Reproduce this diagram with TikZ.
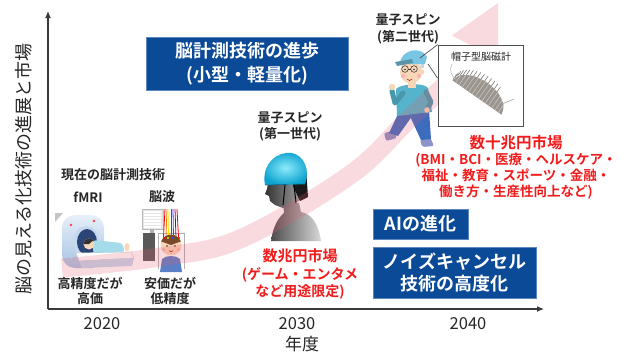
\documentclass[tikz,border=0pt]{standalone}
\usepackage{fontspec}
\setmainfont{Noto Sans CJK JP}[BoldFont={Noto Sans CJK JP Bold}]
\usetikzlibrary{arrows.meta,calc}
\newcommand\fsz[2]{\fontsize{#1}{#2}\selectfont}

\definecolor{boxblue}{HTML}{0B4A97}
\definecolor{boxedge}{HTML}{5E86BE}
\definecolor{mkred}{HTML}{F21C1C}
\definecolor{axisgray}{HTML}{3A3A3A}
\definecolor{txtgray}{HTML}{262626}
\definecolor{bandpink}{HTML}{E45A6A}
\definecolor{skin}{HTML}{F8D6B8}
\definecolor{mrilight}{HTML}{E6EFF9}
\definecolor{mridark}{HTML}{A6C3E3}
\definecolor{borering}{HTML}{C4D8EE}
\definecolor{bore}{HTML}{2B4676}
\definecolor{gown}{HTML}{A6DCEA}
\definecolor{shirtblue}{HTML}{5B7FC6}
\definecolor{hairbrown}{HTML}{7A4A2A}
\definecolor{helmetlight}{HTML}{8EEBFA}
\definecolor{helmetdark}{HTML}{0AA2CF}
\definecolor{capcyan}{HTML}{78C6E4}
\definecolor{shirtteal}{HTML}{55B3CB}
\definecolor{pantsblue}{HTML}{3D6CBF}
\definecolor{shoe}{HTML}{8C93CB}
\definecolor{sensor}{HTML}{9C958F}
\definecolor{framegray}{HTML}{505050}

\tikzset{
  bluebox/.style={fill=boxblue, draw=boxedge, line width=0.6pt, text=white,
    font=\bfseries, align=center, inner sep=0pt},
  redtext/.style={text=mkred, align=center, inner sep=0pt},
  blacklabel/.style={text=txtgray, align=center, inner sep=0pt},
  yearlabel/.style={text=txtgray, font=\fsz{16.5}{20}, inner sep=0pt},
  axisline/.style={draw=axisgray, line width=1.2pt, -{Latex[length=7pt,width=6pt]}},
  callout/.style={draw=framegray, line width=0.7pt},
}

\begin{document}
\begin{tikzpicture}[x=1pt,y=-1pt]
\useasboundingbox (0,0) rectangle (627,354);
\fill[white] (0,0) rectangle (627,354);

% ---------- axes ----------
\coordinate (origin) at (48,309);
\coordinate (ytop) at (48,11);
\coordinate (xend) at (544,309);
\draw[axisline] (origin) -- (ytop);
\draw[axisline] (origin) -- (xend);

\node[rotate=90, text=txtgray, font=\fsz{18}{20}, inner sep=0pt] (ylab) at (24,169)
  {脳の見える化技術の進展と市場};

% ---------- MRI scanner ----------
\fill[gray!45] (55,213) -- (63,213) -- (55,222) -- cycle;
\shade[top color=mrilight, bottom color=mridark, rounded corners=13pt] (62,215) rectangle (104,268);
\fill[borering] (86,242) ellipse [x radius=13, y radius=16];
\fill[bore] (87,242) ellipse [x radius=10, y radius=13];
\fill[red!75] (71,225) circle (1.3);
\fill[red!75] (94,221) circle (1.3);
% bed
\fill[white, draw=gray!45, line width=0.4pt] (76,253) -- (131,252) -- (134,258) -- (79,261) -- cycle;
\fill[borering] (79,261) -- (134,258) -- (132,266) -- (82,268) -- cycle;
% patient
\fill[gown, rounded corners=3pt] (93,240) -- (122,243) -- (125,252) -- (93,253) -- cycle;
\fill[skin] (127,247) ellipse [x radius=2.5, y radius=4];
\fill[skin] (89,244) circle (5.5);
\fill[black!80] (89,244) -- ++(180:5.5) arc[start angle=180, end angle=320, radius=5.5] -- cycle;

% ---------- EEG ----------
\fill[gray!20, draw=gray!55, line width=0.4pt] (142,209) rectangle (163,229);
\foreach \yy in {212,215,...,227} \draw[white, line width=1.1pt] (144,\yy) -- (161,\yy);
\fill[gray!60] (150,229) rectangle (154,233);
\fill[black!65] (143,233) rectangle (155,261);
\draw[gray!60, line width=0.8pt] (158,269) -- (158,233) -- (184,233) -- (184,269);
\foreach \c/\xa/\xb in {red/165/163.5, orange/167/166, yellow!85!orange/169/168.5,
    green!55!black/171/171, blue!75/173/173.5, violet/175/176, red/177/178.5}
  \draw[\c, line width=0.8pt] (\xa,209) -- (\xb,237);
\fill[shirtblue] (160,272) -- (162,259) .. controls (166,255) and (176,255) .. (180,259) -- (182,272) -- cycle;
\fill[skin] (171,245) circle (10.5);
\fill[hairbrown] (171,245) -- ++(200:10.5) arc[start angle=200, end angle=340, radius=10.5] -- cycle;
\foreach \c/\xx in {red/164, yellow!85!orange/168, blue!75/172, green!55!black/176, red/179}
  \fill[\c] (\xx,238) circle (1.2);
\fill[black!80] (167,246) circle (0.9);
\fill[black!80] (175,246) circle (0.9);
\fill[red!35] (163.5,249.5) circle (1.5);
\fill[red!35] (178.5,249.5) circle (1.5);
\draw[red!60!black, line width=0.5pt] (169,250.5) .. controls (171,252.5) .. (173,250.5);

% ---------- head with first-generation sensor helmet ----------
\shade[left color=black!70, right color=black!15]
  (271,241) .. controls (273,226) and (279,217) .. (284,213) -- (283,201)
  -- (299,203) -- (301,212) .. controls (311,214) and (318,222) .. (321,241) -- cycle;
\shade[left color=black!80, right color=black!35]
  (268,183) -- (267,189) -- (265,194) -- (269,196) -- (270,201) -- (275,205)
  -- (283,208) -- (292,206) -- (300,200) -- (303,186) -- cycle;
\fill[black!90] (295,168) -- (306,168) -- (308,197) -- (300,201) -- (293,186) -- cycle;
\shade[inner color=helmetlight, outer color=helmetdark]
  (265,185) .. controls (261,163) and (278,151) .. (292,153)
  .. controls (305,156) and (310,171) .. (305,184) -- cycle;
\draw[helmetdark!70!black, line width=0.6pt] (265,185) -- (305,184);
\draw[black, line width=1pt] (285,185) -- (283,205);
\draw[black, line width=1pt] (294,185) -- (296,203);

% ---------- walking person with second-generation sensor cap ----------
\fill[shoe, rounded corners=2pt] (384,133) -- (393,131) -- (397,138) -- (386,141) -- cycle;
\fill[shoe, rounded corners=2pt] (420,139) -- (430,137) -- (434,146) -- (422,147) -- cycle;
\fill[pantsblue] (399,112) -- (415,112) -- (398,136) -- (389,133) -- cycle;
\fill[pantsblue] (408,112) -- (429,110) -- (431,139) -- (421,140) -- cycle;
\fill[shirtteal] (396,89) .. controls (400,84) and (424,82) .. (428,88) -- (432,112) -- (397,116) -- cycle;
\draw[shirtteal!85!black, line width=5pt, line cap=round, line join=round] (403,93) -- (395,103) -- (392,91);
\fill[skin] (392,87) circle (3.2);
\draw[shirtteal!85!black, line width=5pt, line cap=round, line join=round] (426,92) -- (431,102) -- (428,108);
\fill[skin] (427,110) circle (2.8);
\fill[skin] (408,80) rectangle (416,88);
\fill[skin] (411,72) ellipse [x radius=11, y radius=11.5];
\fill[skin] (422,72) circle (2.5);
\fill[gray!35] (421,63) -- (424,63) -- (424,68) -- (420,68) -- cycle;
\fill[capcyan] (400,64) .. controls (400,50) and (421,45) .. (427,57) -- (425,64) -- cycle;
\fill[capcyan!75!black] (395,62) -- (412,59) -- (413,63) -- (397,66) -- cycle;
\fill[red!30] (403,76) circle (2);
\fill[red!30] (419,76) circle (2);
\draw[black!75, line width=0.6pt] (405,69) circle (3.3);
\draw[black!75, line width=0.6pt] (414,69) circle (3.3);
\draw[black!75, line width=0.6pt] (408.3,69) -- (410.7,69);
\fill[black!80] (405,69.5) circle (0.8);
\fill[black!80] (414,69.5) circle (0.8);
\draw[red!60!black, line width=0.5pt] (407,79) .. controls (409.5,81) .. (412,79);

% ---------- rising market arrow ----------
\begin{scope}[transparency group, opacity=0.22]
  \draw[bandpink, line width=19pt] plot[smooth, tension=0.6] coordinates
    {(62,268) (160,257) (240,239) (350,175) (410,118) (466,65) (475,47.5)};
  \fill[bandpink] (498,3) -- (452,35.5) -- (498,59.5) -- cycle;
\end{scope}

% ---------- inset: cap-type magnetoencephalograph ----------
\node[draw=framegray, fill=white, line width=0.8pt, minimum width=85pt, minimum height=81pt,
  inner sep=0pt] (inset) at (480.5,85.5) {};
\node[text=txtgray, font=\fsz{10}{12}, inner sep=0pt] (insetlabel) at (481,57) {帽子型脳磁計};
\begin{scope}
  \clip plot[smooth] coordinates {(452.4,80.3) (460.9,75.2) (473.7,76.1) (487.3,82.7)
    (498.3,93.3) (503.5,105) (501.6,114.7)} -- cycle;
  \fill[sensor] (440,60) rectangle (515,120);
  \foreach \k in {0,...,16}
    \draw[sensor!55!white, line width=0.6pt] ({452.4+3.28*\k},{80.3+2.296*\k}) -- ++(11.5,-16.4);
\end{scope}
\foreach \t in {64,72,...,176}
  \draw[sensor!80!black, line width=0.6pt]
    ({477+24.6*cos(\t)+10.33*sin(\t)},{97.5+17.22*cos(\t)-14.76*sin(\t)}) -- ++(3.4,-4.9);
\draw[gray!65, line width=0.7pt] (502,104) -- (514,99);
\draw[gray!65, line width=0.5pt] (452,64) .. controls (449,70) and (451,76) .. (456,79);

\coordinate (capa) at (420,58);
\coordinate (capb) at (428,64);
\draw[callout] (capa) -- (inset.north west);
\draw[callout] (capb) -- ($(inset.north west)!0.41!(inset.south west)$);

% ---------- labels ----------
\node[blacklabel, font=\fsz{13}{15}\bfseries] (nowtech) at (113,175) {現在の脳計測技術};
\node[blacklabel, font=\fsz{13}{15}\bfseries] (fmri) at (88,197) {fMRI};
\node[blacklabel, font=\fsz{13}{15}\bfseries] (eeg) at (162,197) {脳波};
\node[blacklabel, font=\fsz{13}{14.5}\bfseries] (fmrinote) at (90,291) {高精度だが\\高価};
\node[blacklabel, font=\fsz{13}{14.5}\bfseries] (eegnote) at (170,291) {安価だが\\低精度};
\node[blacklabel, font=\fsz{13}{16}\bfseries] (gen1) at (290,126) {量子スピン\\(第一世代)};
\node[blacklabel, font=\fsz{13}{17}\bfseries] (gen2) at (408,28.5) {量子スピン\\(第二世代)};

\node[redtext, font=\fsz{14}{17.5}\bfseries] (market1) at (300,274.5)
  {{\fsz{15}{17.5}\bfseries 数兆円市場}\\(ゲーム・エンタメ\\など用途限定)};
\node[redtext, font=\fsz{13.5}{16}\bfseries] (market2) at (516,167.5)
  {{\fsz{15.5}{16}\bfseries 数十兆円市場}\\(BMI・BCI・医療・ヘルスケア・\\福祉・教育・スポーツ・金融・\\働き方・生産性向上など)};

\node[bluebox, font=\fsz{18}{24}\bfseries, minimum width=202pt, minimum height=53pt] (progress)
  at (247,63.5) {脳計測技術の進歩\\(小型・軽量化)};
\node[bluebox, font=\fsz{18}{22}\bfseries, minimum width=95pt, minimum height=30pt] (ai)
  at (420.5,224) {AIの進化};
\node[bluebox, font=\fsz{18}{22}\bfseries, minimum width=163pt, minimum height=51pt] (noise)
  at (454.5,272.5) {ノイズキャンセル\\技術の高度化};

\node[yearlabel] (y2020) at (102,324) {2020};
\node[yearlabel] (y2030) at (297,324) {2030};
\node[yearlabel] (y2040) at (468,324) {2040};
\node[yearlabel, font=\fsz{17}{20}] (xlab) at (302,344) {年度};
\end{tikzpicture}
\end{document}
